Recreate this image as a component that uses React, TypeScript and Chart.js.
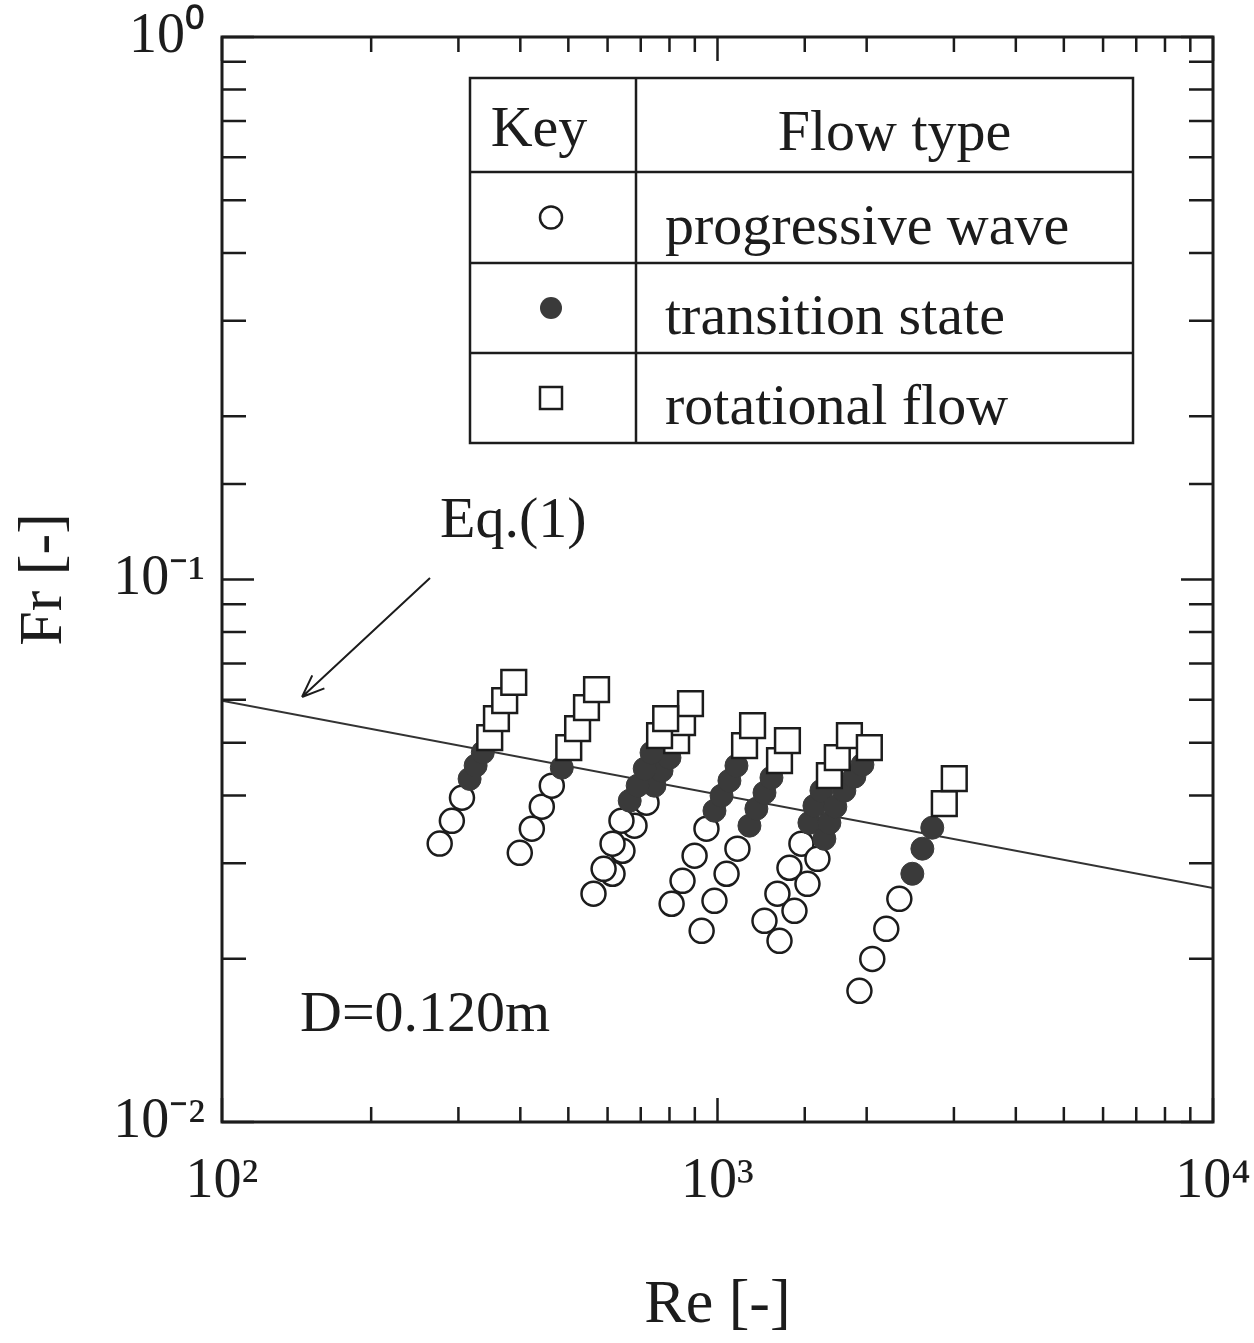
import React, { useEffect, useRef } from 'react';
import { Chart, registerables } from 'chart.js';
Chart.register(...registerables);

// ---- data ----
const progressiveRe = [
  275, 291, 305,
  399, 422, 442, 463,
  562, 614, 643, 680, 719,
  589, 614, 640,
  808, 850, 899, 950,
  929, 986, 1043, 1097,
  1244, 1321, 1397, 1477,
  1334, 1430, 1519, 1591,
  1934, 2053, 2191, 2328,
];
const progressiveFr = [
  0.0326, 0.0359, 0.0396,
  0.03135, 0.03472, 0.03813, 0.04168,
  0.02635, 0.02868, 0.03162, 0.03517, 0.03878,
  0.02929, 0.03258, 0.03592,
  0.02525, 0.02783, 0.03096, 0.03472,
  0.02251, 0.02557, 0.02868, 0.0319,
  0.02349, 0.02635, 0.02942, 0.03258,
  0.02158, 0.02451, 0.02748, 0.03056,
  0.01745, 0.01998, 0.0227, 0.02579,
];
const transitionRe = [
  316, 325, 336,
  485,
  746, 771, 800,
  665, 690, 713, 736,
  986, 1019, 1057, 1092,
  1160, 1198, 1244, 1285,
  1533, 1569, 1621,
  1643, 1682, 1729, 1803, 1889, 1961,
  2473, 2591, 2713,
];
const transitionFr = [
  0.0429, 0.0454, 0.048,
  0.04498,
  0.04168, 0.04443, 0.04694,
  0.03911, 0.04168, 0.04481, 0.04795,
  0.03748, 0.03995, 0.04258, 0.04537,
  0.03517, 0.0378, 0.04046, 0.04313,
  0.03561, 0.03828, 0.04081,
  0.03327, 0.03561, 0.03813, 0.04081, 0.04331, 0.04557,
  0.02868, 0.0319, 0.03487,
];
const rotationalRe = [
  347, 358, 372, 388,
  501, 522, 544, 570,
  827, 850, 882,
  764, 786,
  1134, 1177,
  1334, 1384,
  1682, 1745, 1846,
  2025,
  2869, 3005,
];
const rotationalFr = [
  0.0511, 0.0554, 0.0598, 0.0646,
  0.04898, 0.05309, 0.05803, 0.06266,
  0.05047, 0.05447, 0.05903,
  0.05155, 0.05539,
  0.04941, 0.05377,
  0.04634, 0.05047,
  0.0435, 0.04694, 0.05155,
  0.04898,
  0.03861, 0.04294,
];
const eqRe = [100, 10000];
const eqFr = [0.0598, 0.027];

const xTickLabels: Record<number, string> = { 2: '10²', 3: '10³', 4: '10⁴' };
const yTickLabels: Record<number, string> = { 0: '10⁰', [-1]: '10⁻¹', [-2]: '10⁻²' };

const legendHeader = ['Key', 'Flow type'];
const legendRows = ['progressive wave', 'transition state', 'rotational flow'];

const FONT = '"Liberation Serif", "Times New Roman", serif';
const INK = '#1c1c1c';

const pts = (xs: number[], ys: number[]) => xs.map((x, i) => ({ x, y: ys[i] }));
const decade = (v: number) => {
  const l = Math.log10(v);
  const r = Math.round(l);
  return Math.abs(l - r) < 1e-6 ? r : null;
};

export default function App() {
  const ref = useRef<HTMLCanvasElement>(null);
  useEffect(() => {
    if (!ref.current) return;
    const decor = {
      id: 'decor',
      afterDraw(chart: any) {
        const { ctx, chartArea: a } = chart;
        const xs = chart.scales.x;
        const ys = chart.scales.y;
        ctx.save();
        ctx.strokeStyle = INK;
        ctx.lineWidth = 3;
        ctx.strokeRect(a.left, a.top, a.right - a.left, a.bottom - a.top);
        ctx.lineWidth = 2.5;
        // inward ticks
        ctx.beginPath();
        for (const t of xs.ticks) {
          const px = xs.getPixelForValue(t.value);
          const len = decade(t.value) !== null ? 24 : 15;
          ctx.moveTo(px, a.bottom); ctx.lineTo(px, a.bottom - len);
          ctx.moveTo(px, a.top); ctx.lineTo(px, a.top + len);
        }
        for (const t of ys.ticks) {
          const py = ys.getPixelForValue(t.value);
          const len = decade(t.value) !== null ? 32 : 24;
          ctx.moveTo(a.left, py); ctx.lineTo(a.left + len, py);
          ctx.moveTo(a.right, py); ctx.lineTo(a.right - len, py);
        }
        ctx.stroke();

        // legend table
        const L = 470, R = 1133, T = 78, B = 443, C = 636;
        const rowsY = [T, 172, 263, 353, B];
        ctx.lineWidth = 2.5;
        ctx.strokeRect(L, T, R - L, B - T);
        ctx.beginPath();
        ctx.moveTo(C, T); ctx.lineTo(C, B);
        for (let i = 1; i < rowsY.length - 1; i++) {
          ctx.moveTo(L, rowsY[i]); ctx.lineTo(R, rowsY[i]);
        }
        ctx.stroke();
        ctx.fillStyle = INK;
        ctx.font = `58px ${FONT}`;
        ctx.textBaseline = 'middle';
        ctx.textAlign = 'center';
        ctx.fillText(legendHeader[0], (L + C) / 2 - 14, 131);
        ctx.fillText(legendHeader[1], (C + R) / 2 + 10, 135);
        ctx.textAlign = 'left';
        legendRows.forEach((txt, i) => {
          const cy = (rowsY[i + 1] + rowsY[i + 2]) / 2;
          ctx.fillText(txt, 665, cy + 11);
        });
        const kx = 551;
        // markers in legend
        let cy = (rowsY[1] + rowsY[2]) / 2;
        ctx.beginPath(); ctx.arc(kx, cy, 11, 0, Math.PI * 2);
        ctx.fillStyle = '#fff'; ctx.fill(); ctx.stroke();
        cy = (rowsY[2] + rowsY[3]) / 2;
        ctx.beginPath(); ctx.arc(kx, cy, 11, 0, Math.PI * 2);
        ctx.fillStyle = '#3a3a3a'; ctx.fill();
        cy = (rowsY[3] + rowsY[4]) / 2;
        ctx.fillStyle = '#fff';
        ctx.fillRect(kx - 11, cy - 11, 22, 22);
        ctx.strokeRect(kx - 11, cy - 11, 22, 22);

        // annotations
        ctx.fillStyle = INK;
        ctx.textAlign = 'left';
        ctx.fillText('Eq.(1)', 440, 522);
        ctx.fillText('D=0.120m', 300, 1016);
        // arrow
        ctx.lineWidth = 2;
        ctx.beginPath();
        const x0 = 430, y0 = 578, x1 = 302, y1 = 697;
        ctx.moveTo(x0, y0); ctx.lineTo(x1, y1);
        const ang = Math.atan2(y1 - y0, x1 - x0);
        const hl = 24, spread = 0.38;
        ctx.moveTo(x1, y1); ctx.lineTo(x1 - hl * Math.cos(ang - spread), y1 - hl * Math.sin(ang - spread));
        ctx.moveTo(x1, y1); ctx.lineTo(x1 - hl * Math.cos(ang + spread), y1 - hl * Math.sin(ang + spread));
        ctx.stroke();
        ctx.restore();
      },
    };

    const chart = new Chart(ref.current, {
      type: 'scatter',
      data: {
        datasets: [
          {
            label: 'Eq.(1)',
            type: 'line',
            data: pts(eqRe, eqFr),
            borderColor: '#333',
            borderWidth: 2,
            pointRadius: 0,
            showLine: true,
            order: 4,
          } as any,
          {
            label: 'progressive wave',
            data: pts(progressiveRe, progressiveFr),
            pointStyle: 'circle',
            pointRadius: 12,
            borderWidth: 2.5,
            borderColor: INK,
            backgroundColor: '#fff',
            order: 3,
          },
          {
            label: 'transition state',
            data: pts(transitionRe, transitionFr),
            pointStyle: 'circle',
            pointRadius: 11.5,
            borderWidth: 1,
            borderColor: '#3a3a3a',
            backgroundColor: '#3a3a3a',
            order: 2,
          },
          {
            label: 'rotational flow',
            data: pts(rotationalRe, rotationalFr),
            pointStyle: 'rect',
            pointRadius: 17.5,
            borderWidth: 2.5,
            borderColor: INK,
            backgroundColor: '#fff',
            order: 1,
          },
        ],
      },
      options: {
        animation: false,
        responsive: false,
        layout: { padding: { top: 37, right: 41, left: 0, bottom: 0 } },
        plugins: { legend: { display: false }, tooltip: { enabled: false } },
        scales: {
          x: {
            type: 'logarithmic',
            min: 100,
            max: 10000,
            grid: { display: false, drawTicks: false },
            border: { display: false },
            afterFit: (s: any) => { s.height = 221; s.paddingLeft = 0; s.paddingRight = 0; },
            ticks: {
              autoSkip: false,
              maxRotation: 0,
              padding: 27,
              color: INK,
              font: { family: FONT, size: 56 },
              callback: (v: any) => {
                const d = decade(Number(v));
                return d !== null && xTickLabels[d] ? xTickLabels[d] : '';
              },
            },
            title: {
              display: true,
              text: 'Re [-]',
              color: INK,
              font: { family: FONT, size: 62 },
              padding: { top: 0, bottom: 0 },
            },
          },
          y: {
            type: 'logarithmic',
            min: 0.01,
            max: 1,
            grid: { display: false, drawTicks: false },
            border: { display: false },
            afterFit: (s: any) => { s.width = 222; s.paddingTop = 0; s.paddingBottom = 0; },
            ticks: {
              autoSkip: false,
              padding: 17,
              color: INK,
              font: { family: FONT, size: 56 },
              callback: (v: any) => {
                const d = decade(Number(v));
                return d !== null && yTickLabels[d] ? yTickLabels[d] : '';
              },
            },
            title: {
              display: true,
              text: 'Fr [-]',
              color: INK,
              font: { family: FONT, size: 62 },
              padding: { top: 8, bottom: 0 },
            },
          },
        },
      },
      plugins: [decor],
    });
    return () => chart.destroy();
  }, []);
  return (
    <div style={{ position: 'fixed', left: 0, top: 0, width: 1254, height: 1343, background: '#fff' }}>
      <canvas ref={ref} width={1254} height={1343} style={{ display: 'block' }} />
    </div>
  );
}
